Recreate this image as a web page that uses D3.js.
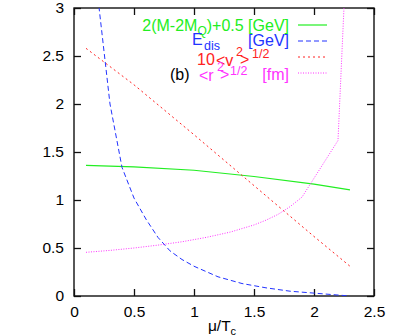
<!DOCTYPE html>
<html>
<head>
<meta charset="utf-8">
<script src="https://cdn.jsdelivr.net/npm/d3@7"></script>
<style>
  body { margin: 0; background: #fff; }
  text { font-family: "Liberation Sans", Arial, sans-serif; }
</style>
</head>
<body>
<div id="chart"></div>
<script>
// values
var xTicks = [0, 0.5, 1, 1.5, 2, 2.5];
var yTicks = [0, 0.5, 1, 1.5, 2, 2.5, 3];

var greenX = [0.1, 0.5, 1.0, 1.5, 2.0, 2.3];
var greenY = [1.36, 1.345, 1.31, 1.245, 1.165, 1.105];

var blueX = [0.2, 0.3, 0.4, 0.5, 0.6, 0.7, 0.8, 0.9, 1.0, 1.2, 1.4, 1.6, 1.8, 2.0, 2.2, 2.3];
var blueY = [3.1, 2.0, 1.34, 1.02, 0.8, 0.61, 0.47, 0.38, 0.31, 0.2, 0.13, 0.085, 0.05, 0.03, 0.01, 0.0];

var redX = [0.1, 0.5, 1.0, 1.5, 2.0, 2.3];
var redY = [2.58, 2.2, 1.68, 1.15, 0.62, 0.31];

var pinkX = [0.1, 0.3, 0.5, 0.7, 0.9, 1.1, 1.3, 1.5, 1.6, 1.7, 1.8, 1.9, 2.2, 2.3];
var pinkY = [0.455, 0.475, 0.5, 0.53, 0.565, 0.61, 0.665, 0.74, 0.79, 0.85, 0.93, 1.03, 1.62, 4.4];

var margin = { top: 8, right: 25, bottom: 39, left: 74 },
    width = 399 - margin.left - margin.right,
    height = 335 - margin.top - margin.bottom;

var svg = d3.select("#chart")
    .append("svg")
    .attr("width", 399)
    .attr("height", 335)
    .append("g")
    .attr("transform", "translate(" + margin.left + "," + margin.top + ")");

var x = d3.scaleLinear().domain([0, 2.5]).range([0, width]);
var y = d3.scaleLinear().domain([0, 3]).range([height, 0]);

svg.append("clipPath").attr("id", "clip")
    .append("rect").attr("width", width).attr("height", height);

// axes, ticks point inward
var tickLen = 7;
svg.append("g")
    .attr("transform", "translate(0," + height + ")")
    .call(d3.axisBottom(x).tickValues(xTicks).tickSizeInner(-tickLen).tickSizeOuter(0).tickPadding(10).tickFormat(d3.format("")));
svg.append("g")
    .call(d3.axisTop(x).tickValues(xTicks).tickSizeInner(-tickLen).tickSizeOuter(0).tickFormat(""));
svg.append("g")
    .call(d3.axisLeft(y).tickValues(yTicks).tickSizeInner(-tickLen).tickSizeOuter(0).tickPadding(10).tickFormat(d3.format("")));
svg.append("g")
    .attr("transform", "translate(" + width + ",0)")
    .call(d3.axisRight(y).tickValues(yTicks).tickSizeInner(-tickLen).tickSizeOuter(0).tickFormat(""));

svg.selectAll(".domain").remove();
svg.selectAll(".tick line").attr("stroke", "#111").attr("stroke-width", 1.3);
svg.selectAll(".tick text").attr("fill", "#000").style("font-size", "15.5px");

svg.append("rect")
    .attr("width", width).attr("height", height)
    .attr("fill", "none").attr("stroke", "#111").attr("stroke-width", 1.4);

// x label
var xl = svg.append("text")
    .attr("x", width / 2 - 2).attr("y", height + 35)
    .attr("text-anchor", "middle")
    .style("font-size", "15.5px");
xl.append("tspan").text("\u03bc/T");
xl.append("tspan").attr("dy", 4).style("font-size", "11px").text("c");

var series = [
    { name: "green", xs: greenX, ys: greenY, color: "#22ee22", dash: null, width: 1.2 },
    { name: "blue", xs: blueX, ys: blueY, color: "#2233ff", dash: "5,3", width: 1 },
    { name: "red", xs: redX, ys: redY, color: "#ff2222", dash: "2,3", width: 1 },
    { name: "pink", xs: pinkX, ys: pinkY, color: "#ff33ff", dash: "1,1.5", width: 1 }
];

var line = d3.line()
    .x(function (d) { return x(d[0]); })
    .y(function (d) { return y(d[1]); });

svg.append("g").attr("clip-path", "url(#clip)")
    .selectAll("path")
    .data(series)
    .enter()
    .append("path")
    .attr("d", function (s) { return line(s.xs.map(function (v, i) { return [v, s.ys[i]]; })); })
    .attr("fill", "none")
    .attr("stroke", function (s) { return s.color; })
    .attr("stroke-width", function (s) { return s.width; })
    .attr("stroke-dasharray", function (s) { return s.dash; });

// legend (page coordinates)
var leg = d3.select("svg").append("g");
var rowY = [25, 41, 57, 73];

leg.selectAll("line")
    .data(series)
    .enter()
    .append("line")
    .attr("x1", 298).attr("x2", 327)
    .attr("y1", function (s, i) { return rowY[i]; })
    .attr("y2", function (s, i) { return rowY[i]; })
    .attr("stroke", function (s) { return s.color; })
    .attr("stroke-width", function (s) { return s.width; })
    .attr("stroke-dasharray", function (s) { return s.dash; });

function txt(str, px, py, color, size, anchor) {
    return leg.append("text")
        .attr("x", px).attr("y", py)
        .attr("fill", color)
        .attr("text-anchor", anchor || "start")
        .style("font-size", (size || 16) + "px")
        .text(str);
}

var t1 = leg.append("text").attr("x", 289).attr("y", 31).attr("text-anchor", "end")
    .attr("fill", "#22ee22").style("font-size", "16px");
t1.append("tspan").text("2(M-2M");
t1.append("tspan").attr("dy", 4).style("font-size", "12px").text("Q");
t1.append("tspan").attr("dy", -4).text(")+0.5 [GeV]");

txt("E", 192, 45, "#2233ff");
txt("dis", 204, 50, "#2233ff", 12.5);
txt("[GeV]", 289, 46, "#2233ff", 16, "end");

txt("10", 197, 65, "#ff2222");
txt("<v", 216, 66, "#ff2222");
txt("2", 236, 56, "#ff2222", 12.5);
txt(">", 240, 65, "#ff2222");
txt("1/2", 252, 58, "#ff2222", 12.5);

txt("(b)", 170, 80, "#000");
txt("<r", 199, 81, "#ff33ff");
txt("2", 217, 71, "#ff33ff", 12.5);
txt(">", 220, 80, "#ff33ff");
txt("1/2", 230, 75, "#ff33ff", 12.5);
txt("[fm]", 289, 80, "#ff33ff", 16, "end");
</script>
</body>
</html>
